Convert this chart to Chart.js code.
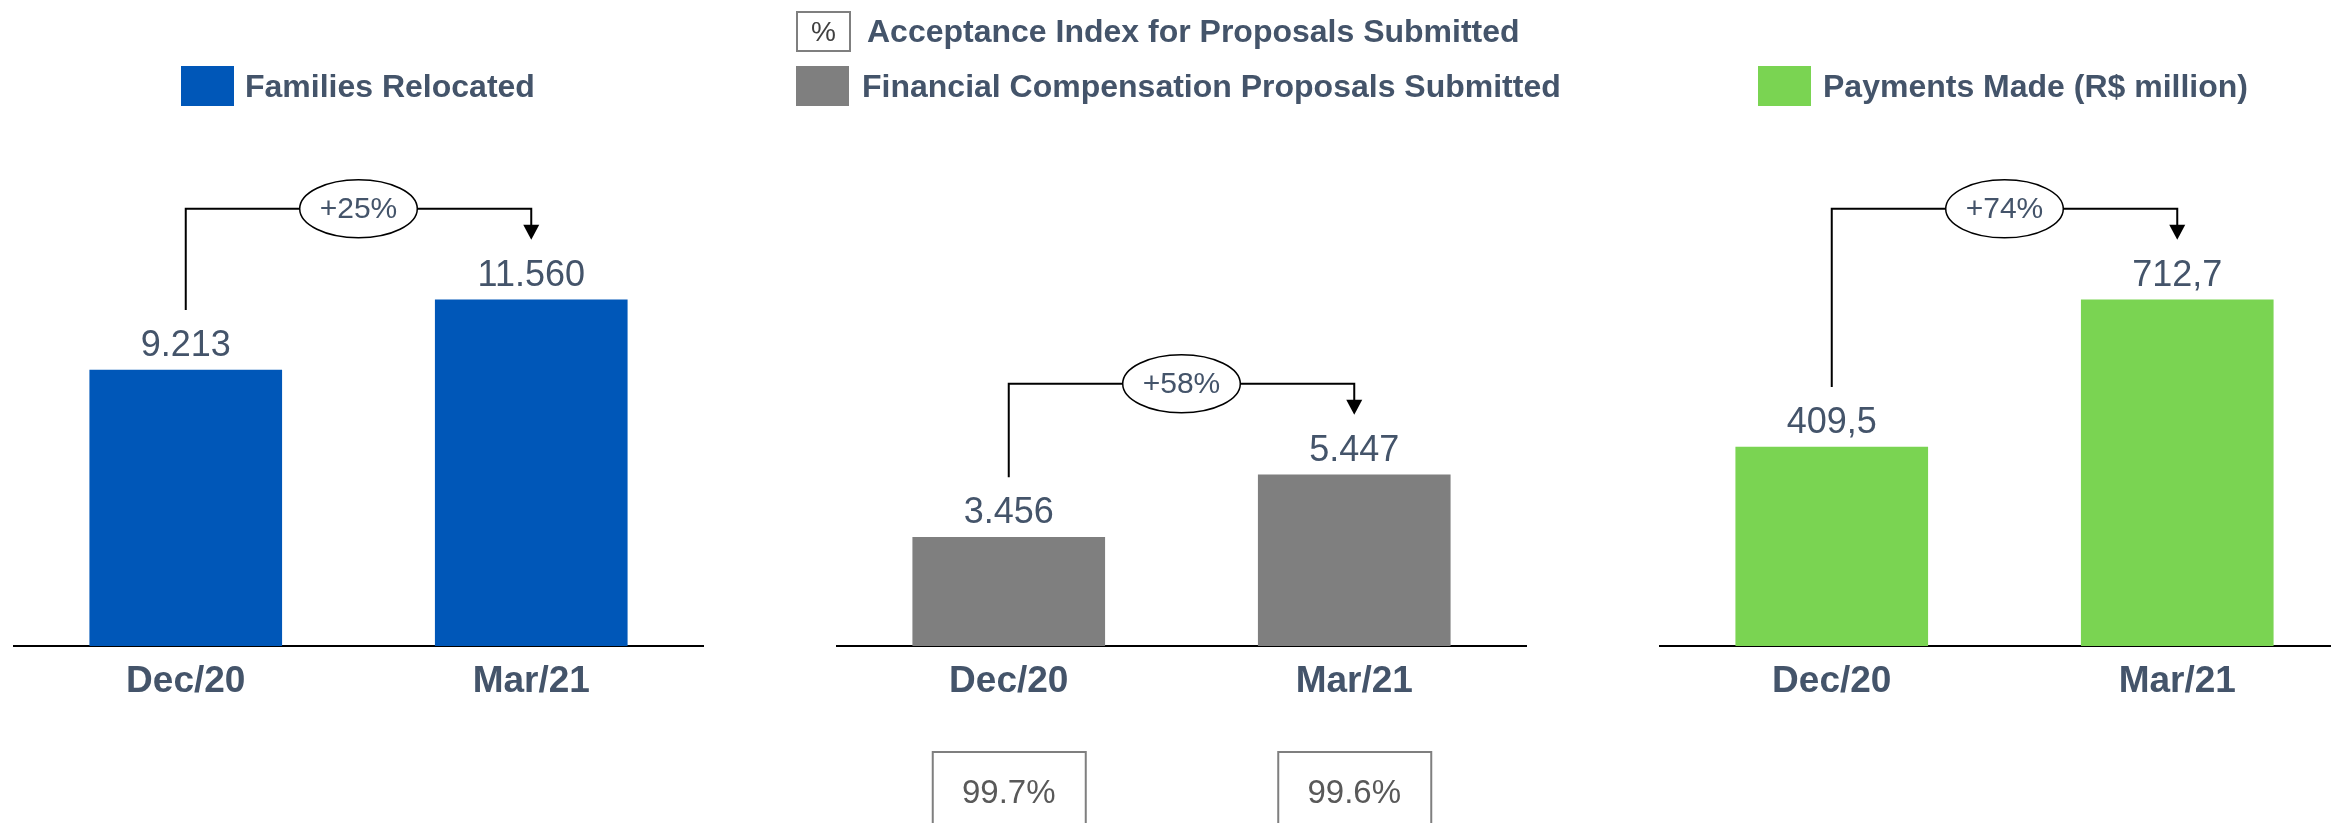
<!DOCTYPE html>
<html>
<head>
<meta charset="utf-8">
<script src="https://cdn.jsdelivr.net/npm/chart.js@4.4.1/dist/chart.umd.min.js"></script>
<style>
  html, body { margin: 0; padding: 0; background: #fff; }
  body { width: 2331px; height: 823px; position: relative; overflow: hidden; font-family: "Liberation Sans", Arial, sans-serif; }
  canvas { position: absolute; top: 0; }
  .sw { position: absolute; width: 53px; height: 40px; }
  .lg { position: absolute; font-weight: bold; font-size: 32px; color: #44546A; line-height: 40px; white-space: nowrap; }
  .pct { position: absolute; box-sizing: border-box; border: 2px solid #7f7f7f; width: 55px; height: 41px;
         font-size: 28px; color: #404040; text-align: center; line-height: 37px; }
</style>
</head>
<body>
<canvas id="chart1" width="691" height="823" style="left:13px"></canvas>
<canvas id="chart2" width="691" height="823" style="left:836px"></canvas>
<canvas id="chart3" width="691" height="823" style="left:1659px"></canvas>
<script>
// data
const categories = ['Dec/20', 'Mar/21'];
const familiesRelocated = [9213, 11560];
const proposalsSubmitted = [3456, 5447];
const paymentsMade = [409.5, 712.7];
const acceptanceIndex = [99.7, 99.6];
const growthLabels = ['+25%', '+58%', '+74%'];
const seriesNames = ['Families Relocated', 'Financial Compensation Proposals Submitted', 'Payments Made (R$ million)'];
const acceptanceName = 'Acceptance Index for Proposals Submitted';
const yMax = [17560, 16730, 1083];

const FONT = '"Liberation Sans", Arial, sans-serif';
const TEXT = '#44546A';
const colors = ['#0057B8', '#7F7F7F', '#7AD452'];

function thousands(v) {
    return String(v).replace(/\B(?=(\d{3})+(?!\d))/g, '.');
}
function decimalComma(v) {
    return v.toFixed(1).replace('.', ',');
}

// legends (html)
function addLegend(left, top, color, name, textLeft) {
    let sw = document.createElement('div');
    sw.className = 'sw';
    sw.style.left = left + 'px';
    sw.style.top = top + 'px';
    sw.style.background = color;
    document.body.appendChild(sw);
    let lg = document.createElement('div');
    lg.className = 'lg';
    lg.style.left = textLeft + 'px';
    lg.style.top = top + 'px';
    lg.textContent = name;
    document.body.appendChild(lg);
}
addLegend(181, 66, colors[0], seriesNames[0], 245);
addLegend(796, 66, colors[1], seriesNames[1], 862);
addLegend(1758, 66, colors[2], seriesNames[2], 1823);

let pct = document.createElement('div');
pct.className = 'pct';
pct.style.left = '796px';
pct.style.top = '11px';
pct.textContent = '%';
document.body.appendChild(pct);
let pctText = document.createElement('div');
pctText.className = 'lg';
pctText.style.left = '867px';
pctText.style.top = '11px';
pctText.textContent = acceptanceName;
document.body.appendChild(pctText);

// value labels, growth connector and acceptance boxes
const growthArrow = {
    id: 'growthArrow',
    afterDatasetsDraw(chart, args, opts) {
        const ctx = chart.ctx;
        const meta = chart.getDatasetMeta(0);
        const values = chart.data.datasets[0].data;
        const a = meta.data[0], b = meta.data[1];
        ctx.save();

        ctx.font = '36px ' + FONT;
        ctx.fillStyle = TEXT;
        ctx.textAlign = 'center';
        ctx.textBaseline = 'alphabetic';
        meta.data.forEach((bar, i) => ctx.fillText(opts.format(values[i]), bar.x, bar.y - 14));

        const hy = b.y - 91;
        const tip = b.y - 60;
        ctx.strokeStyle = '#000';
        ctx.lineWidth = 2;
        ctx.beginPath();
        ctx.moveTo(a.x, a.y - 60);
        ctx.lineTo(a.x, hy);
        ctx.lineTo(b.x, hy);
        ctx.lineTo(b.x, tip - 12);
        ctx.stroke();
        ctx.fillStyle = '#000';
        ctx.beginPath();
        ctx.moveTo(b.x - 8, tip - 15);
        ctx.lineTo(b.x + 8, tip - 15);
        ctx.lineTo(b.x, tip);
        ctx.closePath();
        ctx.fill();

        const cx = (a.x + b.x) / 2;
        ctx.font = '30px ' + FONT;
        const tw = ctx.measureText(opts.label).width;
        ctx.beginPath();
        ctx.ellipse(cx, hy, tw / 2 + 20, 29, 0, 0, Math.PI * 2);
        ctx.fillStyle = '#fff';
        ctx.fill();
        ctx.lineWidth = 1.5;
        ctx.stroke();
        ctx.fillStyle = TEXT;
        ctx.textBaseline = 'middle';
        ctx.fillText(opts.label, cx, hy + 1);

        if (opts.boxes) {
            const bottom = chart.chartArea.bottom;
            ctx.font = '33px ' + FONT;
            ctx.textBaseline = 'alphabetic';
            meta.data.forEach((bar, i) => {
                ctx.strokeStyle = '#7F7F7F';
                ctx.lineWidth = 2;
                ctx.strokeRect(bar.x - 76, bottom + 106, 153, 100);
                ctx.fillStyle = '#595959';
                ctx.fillText(opts.boxes[i].toFixed(1) + '%', bar.x, bottom + 157);
            });
        }
        ctx.restore();
    }
};

function makeChart(id, values, color, max, label, format, boxes) {
    return new Chart(document.getElementById(id), {
        type: 'bar',
        data: {
            labels: categories,
            datasets: [{ data: values, backgroundColor: color, barThickness: 192 }]
        },
        options: {
            responsive: false,
            animation: false,
            layout: { padding: { top: 120, left: 0, right: 0, bottom: 0 } },
            plugins: {
                legend: { display: false },
                tooltip: { enabled: false },
                growthArrow: { label: label, format: format, boxes: boxes }
            },
            scales: {
                x: {
                    grid: { display: false, drawTicks: false },
                    border: { display: true, color: '#000', width: 2 },
                    ticks: { color: TEXT, padding: 14, font: { family: FONT, size: 37, weight: 'bold' } },
                    afterFit(scale) { scale.height = 177; }
                },
                y: { display: false, min: 0, max: max }
            }
        },
        plugins: [growthArrow]
    });
}

makeChart('chart1', familiesRelocated, colors[0], yMax[0], growthLabels[0], thousands);
makeChart('chart2', proposalsSubmitted, colors[1], yMax[1], growthLabels[1], thousands, acceptanceIndex);
makeChart('chart3', paymentsMade, colors[2], yMax[2], growthLabels[2], decimalComma);
</script>
</body>
</html>
